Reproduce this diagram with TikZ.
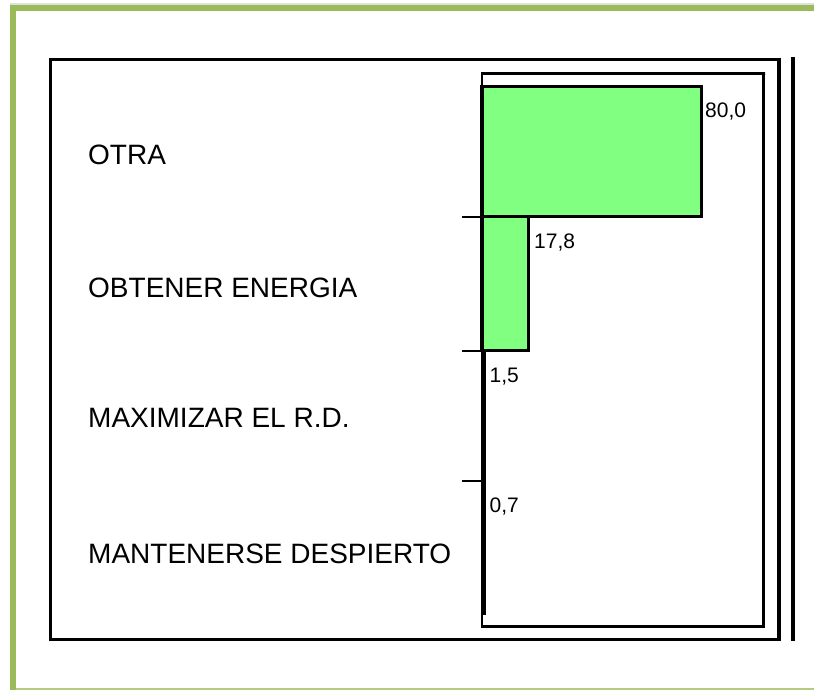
\documentclass[tikz,border=0pt]{standalone}
\usepackage{fontspec}
\setmainfont{Liberation Sans}
\definecolor{frameGreen}{HTML}{9BBB59}
\definecolor{frameGreenLight}{HTML}{B3CC82}
\definecolor{barGreen}{HTML}{80FF80}
\begin{document}
\begin{tikzpicture}[x=1pt,y=-1pt,
  cat/.style={anchor=west,inner sep=0pt,font=\fontsize{28}{30}\selectfont},
  val/.style={anchor=base west,inner sep=0pt,font=\fontsize{21}{24}\selectfont},
  barbox/.style={draw=black,line width=3.2pt,fill=barGreen},
  tickline/.style={draw=black,line width=2pt}]
\useasboundingbox (0,0) rectangle (814,690);
% green frame
\fill[black!12] (10,3.5) rectangle (814,5);
\fill[frameGreen] (10,5) rectangle (814,11);
\fill[frameGreen] (10,5) rectangle (16,690);
\fill[frameGreenLight] (16,687.5) rectangle (814,690);
% outer chart box
\draw[line width=3.8pt] (50.5,59.5) rectangle (779,639.5);
\draw[line width=3.8pt] (793,57) -- (793,641);
% inner plot box
\draw[line width=2.8pt] (482,73.5) -- (765,73.5) -- (763.5,73.5) -- (763.5,626.5) -- (482,626.5) -- cycle;
% bars
\draw[barbox] (482,86.5) rectangle (701.5,216.5);
\draw[barbox] (482,216.5) rectangle (528.5,350.5);
% axis
\draw[line width=5.5pt] (483.5,350) -- (483.5,615);
% ticks
\coordinate (t1a) at (462,216.5); \coordinate (t1b) at (482,216.5);
\coordinate (t2a) at (462,350.5); \coordinate (t2b) at (482,350.5);
\coordinate (t3a) at (462,480.5); \coordinate (t3b) at (482,480.5);
\draw[tickline] (t1a) -- (t1b);
\draw[tickline] (t2a) -- (t2b);
\draw[tickline] (t3a) -- (t3b);
% category labels
\node[cat] (c1) at (88,155) {OTRA};
\node[cat] (c2) at (88,288) {OBTENER ENERGIA};
\node[cat] (c3) at (88,418) {MAXIMIZAR EL R.D.};
\node[cat] (c4) at (88,554) {MANTENERSE DESPIERTO};
% value labels
\node[val] (v1) at (705,118) {80,0};
\node[val] (v2) at (534,248) {17,8};
\node[val] (v3) at (489.5,382) {1,5};
\node[val] (v4) at (489.5,512) {0,7};
\end{tikzpicture}
\end{document}
